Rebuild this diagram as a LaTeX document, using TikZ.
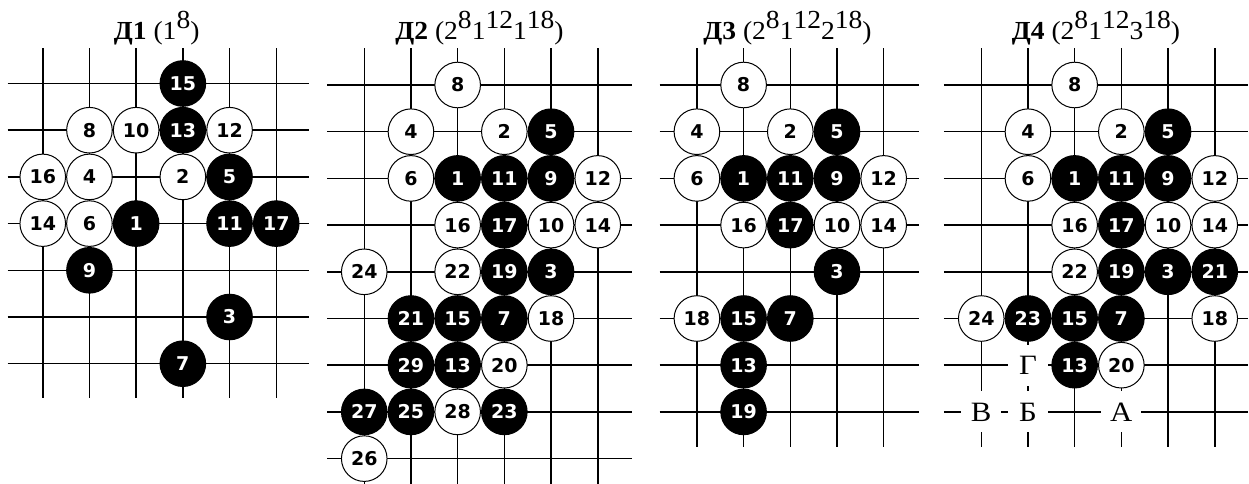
\documentclass[tikz,border=0pt]{standalone}
\usepackage{fontspec}
\setmainfont{Liberation Serif}
\newfontfamily\stonefont{DejaVu Sans}
\newcommand\tsup[1]{\raisebox{5.5pt}{#1}}
\tikzset{
  gridline/.style={line width=0.75pt, black},
  stone/.style={circle, minimum size=22.8pt, inner sep=0pt, line width=0.5pt,
    font=\stonefont\bfseries\fontsize{9.5pt}{10pt}\selectfont},
  bst/.style={stone, fill=black, draw=black, text=white},
  wst/.style={stone, fill=white, draw=black, text=black},
  title/.style={anchor=base, inner sep=0pt, font=\fontsize{13pt}{14pt}\selectfont},
  lbl/.style={fill=white, inner sep=0pt, minimum width=20pt, minimum height=20.5pt,
    font=\fontsize{14pt}{15pt}\selectfont},
}
\begin{document}
\begin{tikzpicture}[x=0.5pt,y=-0.5pt]
\fill[white] (0,0) rectangle (1249,483);
\path[use as bounding box] (0,0) rectangle (1249,483);

% titles
\node[title] (t1) at (156.7,39.5) {\scalebox{1.06}[1]{\textbf{Д1} (1\tsup{8})}};
\node[title] (t2) at (479.5,39.5) {\scalebox{1.06}[1]{\textbf{Д2} (2\tsup{8}1\tsup{12}1\tsup{18})}};
\node[title] (t3) at (787.5,39.5) {\scalebox{1.06}[1]{\textbf{Д3} (2\tsup{8}1\tsup{12}2\tsup{18})}};
\node[title] (t4) at (1096,39.5) {\scalebox{1.06}[1]{\textbf{Д4} (2\tsup{8}1\tsup{12}3\tsup{18})}};

% D1
\begin{scope}[xshift=21.375pt, yshift=-41.75pt, x=23.35pt, y=-23.35pt]
  \foreach \r in {0,...,6} \draw[gridline] (-0.75,\r) -- (5.7,\r);
  \foreach \c in {0,...,5} \draw[gridline] (\c,-0.75) -- (\c,6.73);
  \foreach \c/\r/\n in {3/0/15, 3/1/13, 4/2/5, 2/3/1, 4/3/11, 5/3/17, 1/4/9, 4/5/3, 3/6/7}
    \node[bst] (d1s\n) at (\c,\r) {\n};
  \foreach \c/\r/\n in {1/1/8, 2/1/10, 4/1/12, 0/2/16, 1/2/4, 3/2/2, 0/3/14, 1/3/6}
    \node[wst] (d1s\n) at (\c,\r) {\n};
\end{scope}

% D2
\begin{scope}[xshift=182.125pt, yshift=-42.5pt, x=23.35pt, y=-23.35pt]
  \foreach \r in {0,...,8} \draw[gridline] (-0.79,\r) -- (5.73,\r);
  \foreach \c in {0,...,5} \draw[gridline] (\c,-0.79) -- (\c,8.7);
  \foreach \c/\r/\n in {4/1/5, 2/2/1, 3/2/11, 4/2/9, 3/3/17, 3/4/19, 4/4/3, 1/5/21, 2/5/15, 3/5/7,
      1/6/29, 2/6/13, 0/7/27, 1/7/25, 3/7/23}
    \node[bst] (d2s\n) at (\c,\r) {\n};
  \foreach \c/\r/\n in {2/0/8, 1/1/4, 3/1/2, 1/2/6, 5/2/12, 2/3/16, 4/3/10, 5/3/14, 0/4/24, 2/4/22,
      4/5/18, 3/6/20, 2/7/28, 0/8/26}
    \node[wst] (d2s\n) at (\c,\r) {\n};
\end{scope}

% D3
\begin{scope}[xshift=348.45pt, yshift=-42.5pt, x=23.35pt, y=-23.35pt]
  \foreach \r in {0,...,7} \draw[gridline] (-0.8,\r) -- (4.76,\r);
  \foreach \c in {0,...,4} \draw[gridline] (\c,-0.79) -- (\c,7.745);
  \foreach \c/\r/\n in {3/1/5, 1/2/1, 2/2/11, 3/2/9, 2/3/17, 3/4/3, 1/5/15, 2/5/7, 1/6/13, 1/7/19}
    \node[bst] (d3s\n) at (\c,\r) {\n};
  \foreach \c/\r/\n in {1/0/8, 0/1/4, 2/1/2, 0/2/6, 4/2/12, 1/3/16, 3/3/10, 4/3/14, 0/5/18}
    \node[wst] (d3s\n) at (\c,\r) {\n};
\end{scope}

% D4
\begin{scope}[xshift=490.625pt, yshift=-42.5pt, x=23.35pt, y=-23.35pt]
  \foreach \r in {0,...,7} \draw[gridline] (-0.8,\r) -- (5.72,\r);
  \foreach \c in {0,...,5} \draw[gridline] (\c,-0.79) -- (\c,7.75);
  \foreach \c/\r/\n in {4/1/5, 2/2/1, 3/2/11, 4/2/9, 3/3/17, 3/4/19, 4/4/3, 5/4/21, 1/5/23, 2/5/15,
      3/5/7, 2/6/13}
    \node[bst] (d4s\n) at (\c,\r) {\n};
  \foreach \c/\r/\n in {2/0/8, 1/1/4, 3/1/2, 1/2/6, 5/2/12, 2/3/16, 4/3/10, 5/3/14, 2/4/22, 0/5/24,
      5/5/18, 3/6/20}
    \node[wst] (d4s\n) at (\c,\r) {\n};
  \node[lbl] (d4G) at (1,6) {\scalebox{1.1}[1]{Г}};
  \node[lbl] (d4V) at (0,7) {\scalebox{1.1}[1]{В}};
  \node[lbl] (d4B) at (1,7) {\scalebox{1.1}[1]{Б}};
  \node[lbl] (d4A) at (3,7) {\scalebox{1.1}[1]{А}};
\end{scope}
\end{tikzpicture}
\end{document}
